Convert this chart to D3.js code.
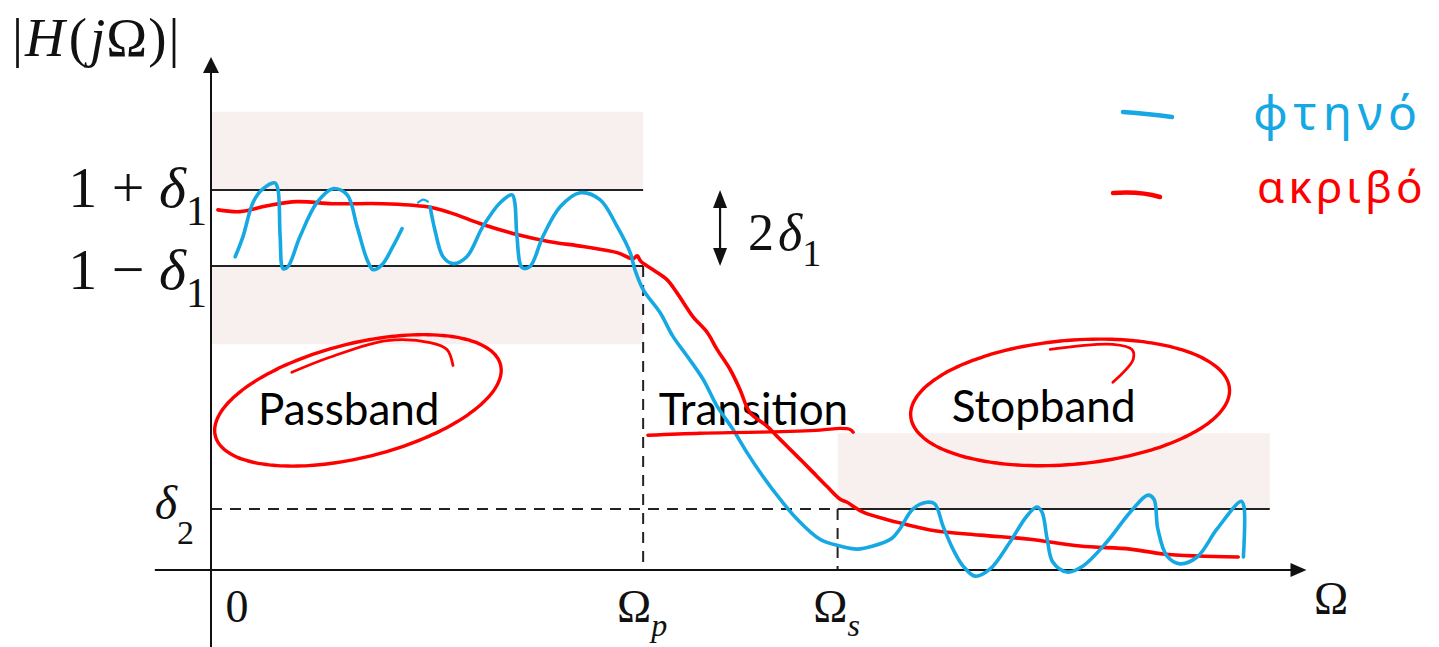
<!DOCTYPE html>
<html>
<head>
<meta charset="utf-8">
<script src="https://cdn.jsdelivr.net/npm/d3@7"></script>
<style>
  html, body { margin: 0; padding: 0; background: #fff; }
  svg { display: block; }
</style>
</head>
<body>
<svg id="chart" width="1439" height="647"></svg>
<script>
// ---- Filter specification (normalised frequency, Ωp = 1) ----
const omegaPass = 1.0;
const omegaStop = 1.45;
const delta1 = 0.111;
const delta2 = 0.178;
const passTolerance = [0.66, 1.34];   // shaded forbidden zone around the passband
const stopTolerance = [0.178, 0.40];  // shaded forbidden zone above the stopband
const stopEnd = 2.45;

// ---- Axis tick labels ----
const xTickLabels = [
  { value: 0,         main: "0", sub: "" },
  { value: omegaPass, main: "Ω", sub: "p" },
  { value: omegaStop, main: "Ω", sub: "s" }
];
const yTickLabels = [
  { value: 1 + delta1, main: "1 + ", sym: "δ", sub: "1" },
  { value: 1 - delta1, main: "1 − ", sym: "δ", sub: "1" },
  { value: delta2,     main: "",     sym: "δ", sub: "2" }
];
const regionNames = ["Passband", "Transition", "Stopband"];
const legendNames = ["φτηνό", "ακριβό"];

// ---- Cheap (equiripple-like) response, sketched in blue: [Ω, |H|] ----
const cheapPart1 = [
  [0.056, 0.916], [0.074, 0.975], [0.097, 1.074], [0.118, 1.112], [0.148, 1.132],
  [0.155, 1.112], [0.160, 0.975], [0.167, 0.881], [0.178, 0.887], [0.206, 0.975],
  [0.245, 1.074], [0.282, 1.115], [0.315, 1.097], [0.338, 1.004], [0.361, 0.908],
  [0.375, 0.878], [0.396, 0.893], [0.421, 0.946], [0.442, 0.998]
];
const cheapFlick = [[0.479, 1.074], [0.491, 1.083], [0.502, 1.077]];
const cheapPart2 = [
  [0.507, 1.062], [0.518, 0.995], [0.537, 0.916], [0.560, 0.896], [0.592, 0.916],
  [0.629, 1.004], [0.669, 1.074], [0.697, 1.097], [0.703, 1.074], [0.708, 0.975],
  [0.720, 0.884], [0.738, 0.887], [0.768, 0.975], [0.808, 1.062], [0.854, 1.103],
  [0.900, 1.083], [0.940, 1.004], [0.970, 0.928], [0.981, 0.878], [1.000, 0.820],
  [1.039, 0.753], [1.069, 0.683], [1.102, 0.625], [1.139, 0.557], [1.171, 0.479],
  [1.208, 0.411], [1.240, 0.344], [1.277, 0.274], [1.317, 0.207], [1.356, 0.149],
  [1.409, 0.090], [1.455, 0.070], [1.495, 0.061], [1.532, 0.070], [1.576, 0.093],
  [1.594, 0.120], [1.624, 0.178], [1.657, 0.198], [1.675, 0.193], [1.694, 0.128],
  [1.717, 0.061], [1.740, 0.012], [1.768, -0.018], [1.803, 0.003], [1.849, 0.082],
  [1.888, 0.158], [1.911, 0.184], [1.923, 0.169], [1.935, 0.090], [1.948, 0.023],
  [1.981, -0.006], [2.018, 0.012], [2.073, 0.082], [2.127, 0.169], [2.168, 0.219],
  [2.182, 0.207], [2.191, 0.120], [2.212, 0.041], [2.242, 0.018], [2.282, 0.038],
  [2.328, 0.120], [2.384, 0.201], [2.390, 0.187], [2.389, 0.038]
];

// ---- Expensive (smooth, monotone) response, sketched in red: [Ω, |H|] ----
const expensive = [
  [0.016, 1.053], [0.067, 1.048], [0.130, 1.065], [0.199, 1.077], [0.282, 1.071],
  [0.398, 1.071], [0.500, 1.062], [0.553, 1.045], [0.629, 1.010], [0.708, 0.981],
  [0.784, 0.960], [0.861, 0.946], [0.940, 0.928], [0.977, 0.910], [0.986, 0.919],
  [0.995, 0.902], [1.023, 0.878], [1.055, 0.849], [1.078, 0.811], [1.115, 0.741],
  [1.148, 0.695], [1.171, 0.645], [1.201, 0.587], [1.224, 0.528], [1.247, 0.461],
  [1.287, 0.420], [1.317, 0.382], [1.356, 0.333], [1.386, 0.295], [1.425, 0.245],
  [1.456, 0.207], [1.472, 0.198], [1.509, 0.169], [1.587, 0.140], [1.664, 0.117],
  [1.780, 0.102], [1.895, 0.090], [2.011, 0.070], [2.127, 0.061], [2.203, 0.047],
  [2.282, 0.041], [2.377, 0.038]
];

// ---- Hand annotations in the same [Ω, |H|] frame ----
const passHook = [[0.187, 0.578], [0.275, 0.622], [0.407, 0.671], [0.507, 0.665], [0.546, 0.645], [0.560, 0.598]];
const stopHook = [[1.942, 0.645], [2.087, 0.660], [2.131, 0.645], [2.134, 0.616], [2.087, 0.549]];
const transitionUnderline = [[1.011, 0.394], [1.132, 0.400], [1.270, 0.403], [1.409, 0.409], [1.456, 0.414], [1.479, 0.411], [1.486, 0.403]];
const passCircle = { center: [0.340, 0.496] };
const stopCircle = { center: [1.988, 0.490] };

// ---- Layout ----
const BLUE = "#16a8e3";
const RED = "#ff0000";
const INK = "#111";
const SHADE = "#f8f0ef";
const SERIF = "'Liberation Serif', 'DejaVu Serif', serif";
const SANS = "Lato, 'Open Sans', sans-serif";

const svg = d3.select("#chart");
const x = d3.scaleLinear().domain([0, 2.52]).range([211, 1300]);
const y = d3.scaleLinear().domain([0, 1.5]).range([570, 57]);

// Shaded tolerance zones
const shade = svg.append("g");
shade.append("rect")
  .attr("x", x(0)).attr("width", x(omegaPass) - x(0))
  .attr("y", y(passTolerance[1])).attr("height", y(1 + delta1) - y(passTolerance[1]))
  .attr("fill", SHADE);
shade.append("rect")
  .attr("x", x(0)).attr("width", x(omegaPass) - x(0))
  .attr("y", y(1 - delta1)).attr("height", y(passTolerance[0]) - y(1 - delta1))
  .attr("fill", SHADE);
shade.append("rect")
  .attr("x", x(omegaStop)).attr("width", x(stopEnd) - x(omegaStop))
  .attr("y", y(stopTolerance[1])).attr("height", y(stopTolerance[0]) - y(stopTolerance[1]))
  .attr("fill", SHADE);

// Tolerance lines
const guides = svg.append("g").attr("stroke", "#222").attr("stroke-width", 2).attr("fill", "none");
[1 + delta1, 1 - delta1].forEach(v => {
  guides.append("line").attr("x1", x(0)).attr("x2", x(omegaPass)).attr("y1", y(v)).attr("y2", y(v));
});
guides.append("line").attr("x1", x(omegaStop)).attr("x2", x(stopEnd)).attr("y1", y(delta2)).attr("y2", y(delta2));
const dashed = guides.append("g").attr("stroke-dasharray", "11,8");
dashed.append("line").attr("x1", x(0)).attr("x2", x(omegaStop)).attr("y1", y(delta2)).attr("y2", y(delta2));
dashed.append("line").attr("x1", x(omegaPass)).attr("x2", x(omegaPass)).attr("y1", y(1 - delta1)).attr("y2", y(0));
dashed.append("line").attr("x1", x(omegaStop)).attr("x2", x(omegaStop)).attr("y1", y(delta2)).attr("y2", y(0));

// Axes with arrow heads
const axes = svg.append("g");
axes.append("line").attr("x1", x(-0.13)).attr("x2", x(2.5)).attr("y1", y(0)).attr("y2", y(0))
  .attr("stroke", INK).attr("stroke-width", 2);
axes.append("line").attr("x1", x(0)).attr("x2", x(0)).attr("y1", y(-0.23)).attr("y2", y(1.46))
  .attr("stroke", INK).attr("stroke-width", 2);
axes.append("path")
  .attr("d", `M${x(2.535)},${y(0)} L${x(2.535) - 16},${y(0) - 7} L${x(2.535) - 16},${y(0) + 7} Z`)
  .attr("fill", INK);
axes.append("path")
  .attr("d", `M${x(0)},${y(1.5)} L${x(0) - 8},${y(1.5) + 16} L${x(0) + 8},${y(1.5) + 16} Z`)
  .attr("fill", INK);

// Double arrow marking the passband ripple 2δ1
const rippleX = x(1.178);
const arrows = svg.append("g");
arrows.append("line").attr("x1", rippleX).attr("x2", rippleX)
  .attr("y1", y(1 + delta1) + 10).attr("y2", y(1 - delta1) - 10)
  .attr("stroke", INK).attr("stroke-width", 2.2);
arrows.append("path")
  .attr("d", `M${rippleX},${y(1 + delta1)} L${rippleX - 7},${y(1 + delta1) + 18} L${rippleX + 7},${y(1 + delta1) + 18} Z`)
  .attr("fill", INK);
arrows.append("path")
  .attr("d", `M${rippleX},${y(1 - delta1)} L${rippleX - 7},${y(1 - delta1) - 18} L${rippleX + 7},${y(1 - delta1) - 18} Z`)
  .attr("fill", INK);

// Math labels
function mathText(sel, parts) {
  parts.forEach(p => {
    const t = sel.append("tspan").text(p.t);
    if (p.italic) t.attr("font-style", "italic");
    if (p.size) t.attr("font-size", p.size);
    if (p.dy) t.attr("dy", p.dy);
    if (p.dx) t.attr("dx", p.dx);
  });
  return sel;
}

const labels = svg.append("g").attr("font-family", SERIF).attr("fill", INK);

// |H(jΩ)|
mathText(labels.append("text").attr("x", 12).attr("y", 56).attr("font-size", 55), [
  { t: "|" }, { t: "H", italic: true, dx: 2 }, { t: "(", dx: 4 }, { t: "j", italic: true, dx: 3 },
  { t: "Ω", dx: 1 }, { t: ")", dx: 1 }, { t: "|", dx: 2 }
]);

// y tick labels
yTickLabels.forEach((d, i) => {
  const big = i < 2;
  const t = labels.append("text")
    .attr("x", big ? 207 : 194)
    .attr("y", y(d.value) + (big ? (i === 0 ? 17 : 23) : 10))
    .attr("text-anchor", "end")
    .attr("font-size", big ? 58 : 48);
  mathText(t, [
    { t: d.main },
    { t: d.sym, italic: true },
    { t: d.sub, size: big ? 42 : 34, dy: big ? 18 : 25 }
  ]);
});

// x tick labels
xTickLabels.forEach(d => {
  const t = labels.append("text")
    .attr("x", d.sub ? x(d.value) - 1 : x(d.value) + 26)
    .attr("y", 622)
    .attr("text-anchor", "middle")
    .attr("font-size", 46);
  mathText(t, [{ t: d.main }, { t: d.sub, italic: true, size: 32, dy: 14 }]);
});
labels.append("text").attr("x", 1331).attr("y", 614).attr("text-anchor", "middle")
  .attr("font-size", 46).text("Ω");

// 2δ1 beside the ripple arrow
mathText(labels.append("text").attr("x", rippleX + 28).attr("y", 250).attr("font-size", 52), [
  { t: "2" }, { t: "δ", italic: true, dx: 4 }, { t: "1", size: 38, dy: 16 }
]);

// Region names
const regionPos = [[0.109, 425], [1.036, 425], [1.714, 422]];
svg.append("g").attr("font-family", SANS).attr("font-size", 44).attr("fill", "#000")
  .selectAll("text").data(regionNames).join("text")
  .attr("x", (d, i) => x(regionPos[i][0]))
  .attr("y", (d, i) => regionPos[i][1])
  .text(d => d);

// Response sketches
const line = d3.line().x(d => x(d[0])).y(d => y(d[1])).curve(d3.curveCatmullRom.alpha(0.5));
const ink = svg.append("g").attr("fill", "none").attr("stroke-linecap", "round").attr("stroke-linejoin", "round");

ink.append("path").attr("d", line(expensive)).attr("stroke", RED).attr("stroke-width", 3.6);
[cheapPart1, cheapFlick, cheapPart2].forEach((seg, i) => {
  ink.append("path").attr("d", line(seg)).attr("stroke", BLUE).attr("stroke-width", i === 1 ? 2.2 : 3.6);
});

// Hand-drawn loops around region names
function loop(c, a, b, rotDeg, start, sweep) {
  const cx = x(c[0]), cy = y(c[1]);
  const r = rotDeg * Math.PI / 180;
  const pts = d3.range(0, 1.0001, 1 / 160).map(f => {
    const th = start + f * sweep;
    const ex = a * Math.cos(th), ey = b * Math.sin(th);
    return [cx + ex * Math.cos(r) - ey * Math.sin(r), cy + ex * Math.sin(r) + ey * Math.cos(r)];
  });
  return d3.line().curve(d3.curveBasis)(pts);
}
ink.append("path").attr("d", loop(passCircle.center, 147, 57, -14, -1.2, 2 * Math.PI + 0.08))
  .attr("stroke", RED).attr("stroke-width", 3.4);
ink.append("path").attr("d", line(passHook)).attr("stroke", RED).attr("stroke-width", 2.8);
ink.append("path").attr("d", loop(stopCircle.center, 160, 62, -5, -1.2, 2 * Math.PI + 0.08))
  .attr("stroke", RED).attr("stroke-width", 3.4);
ink.append("path").attr("d", line(stopHook)).attr("stroke", RED).attr("stroke-width", 2.8);
ink.append("path").attr("d", line(transitionUnderline)).attr("stroke", RED).attr("stroke-width", 3.4);

// Legend
const legend = svg.append("g");
const legendColors = [BLUE, RED];
const legendY = [114, 194];
legendNames.forEach((name, i) => {
  const g = legend.append("g");
  g.append("path")
    .attr("d", i === 0
      ? `M1123,${legendY[i] - 2} Q1150,${legendY[i]} 1172,${legendY[i] + 3}`
      : `M1113,${legendY[i] - 1} Q1140,${legendY[i] - 3} 1160,${legendY[i] + 3}`)
    .attr("fill", "none").attr("stroke", legendColors[i]).attr("stroke-width", 4.5)
    .attr("stroke-linecap", "round");
  g.append("text")
    .attr("x", i === 0 ? 1253 : 1257)
    .attr("y", i === 0 ? 130 : 203)
    .attr("font-family", "'Noto Sans', 'DejaVu Sans', sans-serif")
    .attr("font-size", i === 0 ? 48 : 44)
    .attr("letter-spacing", i === 0 ? 6 : 4)
    .attr("fill", legendColors[i])
    .text(name);
});
</script>
</body>
</html>
